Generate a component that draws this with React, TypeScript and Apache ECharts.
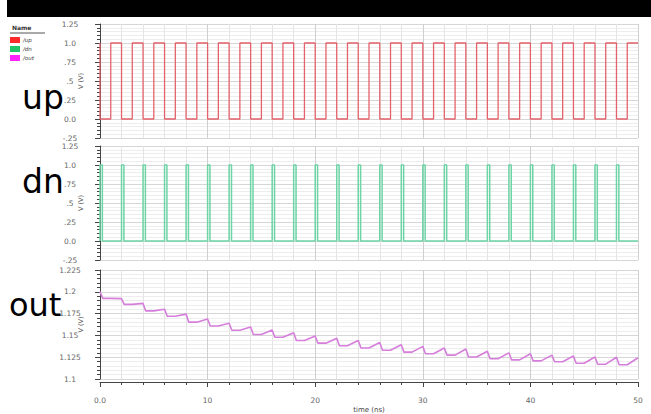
import React, { useEffect, useRef } from "react";
import * as echarts from "echarts";

// ---- data ----
const upInitial = 1;
const upRise = [1, 3, 5, 7, 9, 11, 13, 15, 17, 19, 21, 23, 25, 27, 29, 31, 33, 35, 37, 39, 41, 43, 45, 47, 49];
const upFall = [2, 4, 6, 8, 10, 12, 14, 16, 18, 20, 22, 24, 26, 28, 30, 32, 34, 36, 38, 40, 42, 44, 46, 48];

const dnRise = [0, 2, 4, 6, 8, 10, 12, 14, 16, 18, 20, 22, 24, 26, 28, 30, 32, 34, 36, 38, 40, 42, 44, 46, 48];
const dnWidth = 0.22;

// out: value just before each dn pulse (t = 0, 2, ..., 50)
const outPeak = [
  1.2, 1.1922, 1.1867, 1.18, 1.1744, 1.1689, 1.164, 1.1596, 1.1563, 1.153, 1.1492, 1.1467, 1.1441,
  1.1419, 1.1393, 1.1374, 1.1356, 1.1344, 1.1319, 1.13, 1.1289, 1.1274, 1.1263, 1.1252, 1.1249, 1.1244,
];
// out: value after each drop (t = 0.25 .. 1, 2.25 .. 3, ...)
const outTrough = [
  1.1925, 1.1856, 1.1781, 1.1719, 1.1652, 1.1608, 1.1559, 1.1511, 1.1478, 1.1441, 1.1411, 1.1381,
  1.1356, 1.133, 1.1308, 1.1289, 1.1274, 1.1252, 1.1233, 1.1219, 1.1208, 1.1197, 1.1181, 1.117, 1.1163,
];
const outPeakTimes = [0, 2, 4, 6, 8, 10, 12, 14, 16, 18, 20, 22, 24, 26, 28, 30, 32, 34, 36, 38, 40, 42, 44, 46, 48, 50];
const outDropTime = 0.25;
const outFlatTime = 1;

const xTickLabels = ["0.0", "10", "20", "30", "40", "50"];
const vTickLabels = ["-.25", "0.0", ".25", ".5", ".75", "1.0", "1.25"];
const outTickLabels = ["1.1", "1.125", "1.15", "1.175", "1.2", "1.225"];
const legendNames = ["/up", "/dn", "/out"];
const panelNames = ["up", "dn", "out"];

const colors = { up: "#e4626b", dn: "#6dd4a6", out: "#d67edb" };
const legendColors = ["#ff2a2a", "#22c46a", "#ff22ff"];

export default function App() {
  const ref = useRef<HTMLDivElement>(null);
  useEffect(() => {
    if (!ref.current) return;
    const chart = echarts.init(ref.current, null, { renderer: "svg" });

    const upData: number[][] = [[0, upInitial], [0, 0]];
    upRise.forEach((r, i) => {
      upData.push([r, 0], [r, 1]);
      if (i < upFall.length) upData.push([upFall[i], 1], [upFall[i], 0]);
      else upData.push([50, 1]);
    });

    const dnData: number[][] = [];
    dnRise.forEach((r, i) => {
      if (i > 0) dnData.push([r, 0]);
      dnData.push([r, 1], [r + dnWidth, 1], [r + dnWidth, 0]);
    });
    dnData.push([50, 0]);
    dnData.unshift([0, 0]);

    const outData: number[][] = [];
    outTrough.forEach((v, i) => {
      const t = outPeakTimes[i];
      outData.push([t, outPeak[i]], [t + outDropTime, v], [t + outFlatTime, v]);
    });
    outData.push([outPeakTimes[outPeakTimes.length - 1], outPeak[outPeak.length - 1]]);

    const grids = [
      { left: 100, right: 13, top: 24, height: 114 },
      { left: 100, right: 13, top: 146, height: 114 },
      { left: 100, right: 13, top: 270, height: 113 },
    ];

    const font = "DejaVu Sans";
    const xAxis = grids.map((_, i) => ({
      type: "value",
      gridIndex: i,
      min: 0,
      max: 50,
      interval: 10,
      name: i === 2 ? "time (ns)" : "",
      nameLocation: "middle",
      nameGap: 24,
      nameMoveOverlap: false,
      nameTextStyle: { fontSize: 7, color: "#444", fontFamily: font },
      offset: i === 2 ? 3 : 0,
      axisLine: { show: i === 2, lineStyle: { color: "#444", width: 1 } },
      axisTick: { show: i === 2, length: 5, lineStyle: { color: "#444" } },
      minorTick: { show: i === 2, splitNumber: 5, length: 3, lineStyle: { color: "#444" } },
      axisLabel: {
        show: i === 2,
        fontSize: 7.5,
        color: "#666",
        fontFamily: font,
        margin: 14,
        formatter: (v: number) => xTickLabels[Math.round(v / 10)] ?? "",
      },
      splitLine: { show: true, lineStyle: { color: "#cfcfcf", width: 1 } },
      minorSplitLine: { show: true, lineStyle: { color: "#e4e4e4", width: 1 } },
    }));

    const mkY = (i: number, min: number, max: number, interval: number, labels: string[]) => ({
      type: "value",
      gridIndex: i,
      min,
      max,
      interval,
      offset: 7,
      name: "V (V)",
      nameLocation: "middle",
      nameGap: 9,
      nameMoveOverlap: false,
      nameTextStyle: { fontSize: 6.5, color: "#555", fontFamily: font },
      axisLine: { show: true, lineStyle: { color: "#444", width: 1 } },
      axisTick: { show: true, length: 5, lineStyle: { color: "#444" } },
      minorTick: { show: true, splitNumber: 5, length: 3, lineStyle: { color: "#444" } },
      axisLabel: {
        fontSize: 7.5,
        color: "#666",
        fontFamily: font,
        align: "center",
        margin: 23,
        formatter: (v: number) => labels[Math.round((v - min) / interval)] ?? "",
      },
      splitLine: { show: true, lineStyle: { color: "#d6d6d6", width: 1 } },
      minorSplitLine: { show: true, lineStyle: { color: "#ededed", width: 1 } },
    });

    const yAxis = [
      mkY(0, -0.25, 1.25, 0.25, vTickLabels),
      mkY(1, -0.25, 1.25, 0.25, vTickLabels),
      mkY(2, 1.1, 1.225, 0.025, outTickLabels),
    ];

    const bigY = [97, 181, 305];
    const bigX = [22, 22, 9];

    const graphic: any[] = [
      { type: "rect", shape: { x: 7, y: 0, width: 644, height: 17 }, style: { fill: "#000" } },
      {
        type: "text",
        x: 12,
        y: 24,
        style: { text: "Name", fontSize: 6, fontWeight: "bold", fill: "#333", fontFamily: font },
      },
      { type: "line", shape: { x1: 10, y1: 33, x2: 45, y2: 33 }, style: { stroke: "#555", lineWidth: 1 } },
    ];
    legendNames.forEach((n, i) => {
      graphic.push({
        type: "rect",
        shape: { x: 10, y: 37 + i * 9, width: 10, height: 6 },
        style: { fill: legendColors[i] },
      });
      graphic.push({
        type: "text",
        x: 23,
        y: 37 + i * 9,
        style: { text: n, fontSize: 5.5, fontStyle: "italic", fill: "#333", fontFamily: font },
      });
    });
    panelNames.forEach((n, i) => {
      graphic.push({
        type: "text",
        x: bigX[i],
        y: bigY[i],
        style: {
          text: n,
          fontSize: i === 2 ? 32 : 33,
          fill: "#000",
          fontFamily: font,
          verticalAlign: "middle",
        },
      });
    });

    chart.setOption({
      animation: false,
      backgroundColor: "#fff",
      grid: grids,
      xAxis,
      yAxis,
      graphic,
      series: [
        {
          name: "/up",
          type: "line",
          xAxisIndex: 0,
          yAxisIndex: 0,
          data: upData,
          showSymbol: false,
          lineStyle: { color: colors.up, width: 1.3 },
        },
        {
          name: "/dn",
          type: "line",
          xAxisIndex: 1,
          yAxisIndex: 1,
          data: dnData,
          showSymbol: false,
          lineStyle: { color: colors.dn, width: 1.5 },
        },
        {
          name: "/out",
          type: "line",
          xAxisIndex: 2,
          yAxisIndex: 2,
          data: outData,
          showSymbol: false,
          lineStyle: { color: colors.out, width: 1.6 },
        },
      ],
    });
    return () => chart.dispose();
  }, []);
  return <div ref={ref} style={{ width: 651, height: 414, position: "absolute", left: 0, top: 0 }} />;
}
